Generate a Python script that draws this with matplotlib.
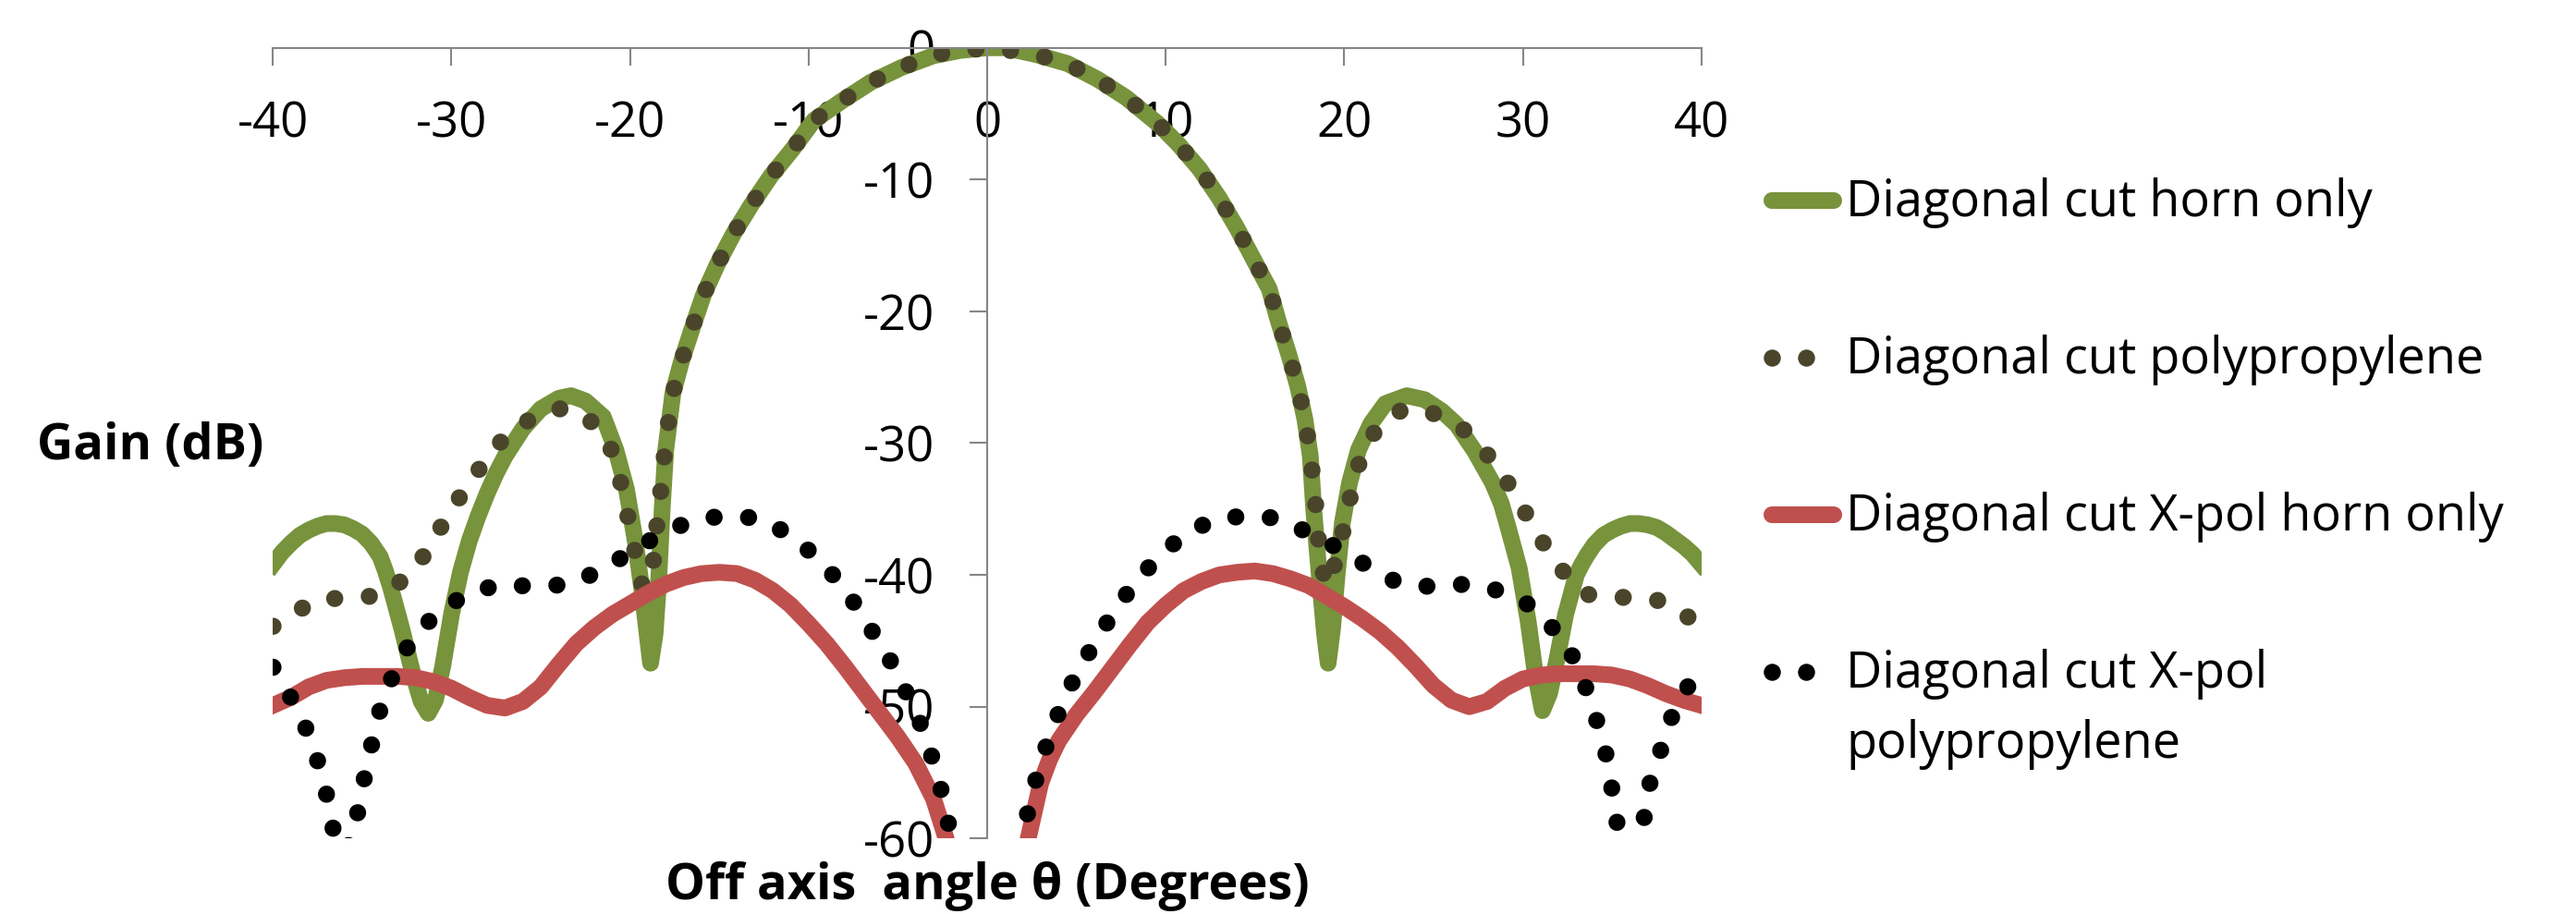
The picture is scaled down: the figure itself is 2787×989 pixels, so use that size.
"""Diagonal cut gain pattern: horn only vs polypropylene, co-pol and X-pol."""

import matplotlib
matplotlib.use("Agg")
import matplotlib.pyplot as plt
from matplotlib.lines import Line2D

plt.rcParams["font.family"] = ["Open Sans", "DejaVu Sans"]
plt.rcParams["axes.unicode_minus"] = False

W, H = 2787, 989

GREEN = "#77933C"
OLIVE = "#4A452A"
RED = "#C0504D"
BLACK = "#000000"
AXIS_GRAY = "#868686"

LABELS = [
    "Diagonal cut horn only",
    "Diagonal cut polypropylene",
    "Diagonal cut X-pol horn only",
    "Diagonal cut X-pol\npolypropylene",
]

# Diagonal cut horn only (co-pol)
HORN_X = [-40, -39.5, -39, -38.5, -38, -37.5, -37, -36.5, -36, -35.5, -35, -34.5,
          -34, -33.7, -33.4, -32.8, -32.2, -31.7, -31.3, -30.9, -30.5, -30.0,
          -29.5, -29.0, -28.5, -28.0, -27.5, -27.0, -26.0, -25.0, -24.0, -23.3,
          -22.5, -21.5, -20.8, -20.2, -19.7, -19.3, -19.0, -18.85, -18.6, -18.4,
          -18.2, -18.0, -17.6, -17.1, -16.5, -15.9, -15.1, -14.2, -13.2, -12.1,
          -10.9, -9.7, -8.1, -6.5, -4.8, -3.0, -1.5, 0.0, 1.0, 2.7, 4.5, 6.2,
          7.8, 9.6, 10.7, 11.9, 13.0, 14.0, 14.9, 15.8, 16.3, 16.9, 17.4, 17.8,
          18.1, 18.3, 18.6, 18.9, 19.1, 19.35, 19.6, 19.9, 20.3, 20.8, 21.5,
          22.3, 23.5, 24.5, 25.5, 26.3, 27.3, 28.3, 28.8, 29.2, 29.8, 30.3, 30.7,
          31.1, 31.5, 31.9, 32.4, 33.0, 33.3, 33.6, 34.0, 34.5, 35.0, 35.5, 36.0,
          36.5, 37.0, 37.5, 38.0, 38.5, 39.0, 39.5, 40]
HORN_Y = [-39.2, -38.3, -37.6, -37.0, -36.6, -36.3, -36.1, -36.1, -36.2, -36.5,
          -36.9, -37.6, -38.6, -39.7, -41.0, -44.0, -47.3, -49.6, -50.5, -49.5,
          -47.0, -43.0, -39.8, -37.4, -35.5, -33.8, -32.3, -31.0, -28.9, -27.4,
          -26.6, -26.4, -26.8, -28.0, -30.5, -33.5, -37.5, -41.5, -45.0, -46.7,
          -44.5, -40.5, -35.0, -30.5, -26.2, -23.7, -21.2, -18.8, -16.4, -14.1,
          -11.9, -9.7, -7.7, -5.5, -4.0, -2.6, -1.5, -0.6, -0.2, 0.0, 0.0, -0.5,
          -1.2, -2.4, -3.8, -5.8, -7.3, -9.2, -11.4, -13.7, -16.0, -18.3, -20.7,
          -23.3, -25.7, -28.2, -31.0, -35.2, -40.0, -44.5, -46.7, -44.0, -40.0,
          -36.0, -33.0, -30.5, -28.5, -27.0, -26.4, -26.7, -27.6, -28.6, -30.6,
          -33.0, -34.6, -36.5, -39.5, -43.5, -47.5, -50.3, -49.0, -46.5, -43.0,
          -40.0, -39.2, -38.5, -37.7, -37.0, -36.6, -36.3, -36.1, -36.1, -36.2,
          -36.4, -36.8, -37.3, -37.8, -38.4, -39.2]

# Diagonal cut polypropylene (co-pol)
PP_X = [-40, -39.5, -37.8, -36.0, -34.1, -32.5, -31.3, -30.4, -29.3, -28.2, -27.0,
        -25.5, -23.7, -22.0, -21.0, -20.5, -20.1, -19.7, -19.4, -19.1, -18.7,
        -18.5, -18.3, -18.1, -17.9, -17.6, -17.1, -16.5, -15.9, -15.1, -14.2,
        -13.2, -12.1, -10.9, -9.7, -8.1, -6.5, -4.8, -3.0, -1.1, 0.8, 2.7, 4.5,
        6.2, 7.8, 9.6, 10.7, 11.9, 13.0, 14.0, 14.9, 15.8, 16.3, 16.9, 17.4,
        17.8, 18.1, 18.3, 18.5, 18.6, 19.0, 19.2, 19.6, 20.0, 20.4, 20.9, 21.8,
        23.3, 25.2, 26.7, 28.1, 29.2, 30.2, 31.2, 32.3, 33.7, 35.6, 37.5, 39.2, 40]
PP_Y = [-43.9, -43.6, -42.0, -41.7, -41.6, -40.2, -38.1, -35.9, -33.6, -31.5,
        -29.5, -28.1, -27.3, -28.5, -30.6, -33.1, -35.7, -38.4, -40.6, -41.0,
        -39.0, -36.3, -33.9, -31.2, -28.9, -26.2, -23.7, -21.2, -18.8, -16.4,
        -14.1, -11.9, -9.7, -7.7, -5.5, -4.0, -2.6, -1.5, -0.55, -0.1, -0.1,
        -0.5, -1.2, -2.4, -3.8, -5.8, -7.3, -9.2, -11.4, -13.7, -16.0, -18.3,
        -20.7, -23.3, -25.7, -28.2, -30.8, -33.4, -35.9, -38.6, -40.8, -40.5,
        -38.5, -36.3, -33.7, -31.2, -28.9, -27.4, -27.8, -29.0, -31.0, -33.1,
        -35.4, -37.7, -39.8, -41.5, -41.7, -41.9, -43.1, -44.5]

# Diagonal cut X-pol horn only
XH_X = [-40, -39, -38, -37, -36, -35, -34, -33, -32, -31, -30, -29, -28, -27, -26,
        -25, -24, -23, -22, -21, -20, -19, -18, -17, -16, -15, -14, -13, -12, -11,
        -10, -9, -8, -7, -6, -5, -4, -3, -2.3, -1.5,
        1.5, 2.3, 3, 3.5, 4, 4.5, 5, 6, 7, 8, 9, 10, 11, 12, 13, 14, 15, 16, 17,
        18, 19, 20, 21, 22, 23, 24, 25, 26, 27, 28, 29, 30, 31, 32, 33, 34, 35,
        36, 37, 38, 39, 40]
XH_Y = [-49.9, -49.3, -48.5, -48.0, -47.8, -47.7, -47.7, -47.7, -47.8, -48.1,
        -48.6, -49.3, -49.9, -50.1, -49.6, -48.5, -46.8, -45.2, -44.0, -43.0,
        -42.2, -41.4, -40.7, -40.2, -39.9, -39.8, -39.9, -40.4, -41.2, -42.3,
        -43.7, -45.2, -46.9, -48.7, -50.5, -52.3, -54.3, -57.0, -60.0, -66.0,
        -66.0, -60.0, -55.8, -54.0, -52.6, -51.6, -50.6, -48.9, -47.1, -45.3,
        -43.6, -42.3, -41.2, -40.5, -40.0, -39.8, -39.7, -39.9, -40.3, -40.8,
        -41.6, -42.4, -43.3, -44.3, -45.5, -46.9, -48.4, -49.5, -50.0, -49.6,
        -48.6, -47.9, -47.6, -47.5, -47.5, -47.5, -47.6, -47.9, -48.4, -49.0,
        -49.5, -49.9]

# Diagonal cut X-pol polypropylene
XPP_X = [-40, -39.5, -38.5, -37.8, -37.2, -36.8, -36.5, -36.0, -35.5, -35.1, -34.7,
         -34.3, -33.8, -33.0, -32.1, -30.7, -29.1, -27.2, -25.3, -23.4, -21.7,
         -20.0, -18.4, -16.6, -14.7, -12.8, -11.1, -9.6, -8.3, -7.2, -6.2, -5.2,
         -4.4, -3.6, -3.0, -2.5, -2.1, -1.5, 0.0, 1.5, 2.0, 2.4, 2.9, 3.5, 4.2,
         5.0, 6.0, 7.0, 8.1, 9.4, 10.8, 12.5, 14.4, 16.3, 18.0, 19.7, 21.4,
         23.0, 24.9, 26.8, 28.7, 30.4, 31.8, 32.9, 33.6, 34.2, 34.7, 35.0, 35.3,
         36.0, 36.8, 37.1, 37.7, 38.3, 39.2, 40]
XPP_Y = [-47.0, -48.1, -50.5, -52.8, -55.4, -57.9, -60.3, -61.0, -60.0, -56.8,
         -54.3, -51.8, -49.2, -46.8, -44.6, -42.8, -41.4, -40.7, -40.9, -40.7,
         -39.7, -38.3, -37.0, -35.9, -35.5, -35.7, -36.9, -38.6, -40.5, -42.6,
         -44.8, -47.0, -49.3, -51.7, -54.2, -56.7, -59.3, -63.0, -70.0, -63.0,
         -59.8, -57.2, -54.7, -52.2, -49.8, -47.5, -45.2, -43.0, -40.9, -38.9,
         -37.2, -35.9, -35.5, -35.7, -36.8, -38.0, -39.4, -40.6, -40.9, -40.7,
         -41.2, -42.3, -44.2, -46.4, -48.8, -51.3, -53.8, -56.3, -59.0, -61.0,
         -58.4, -55.9, -53.4, -50.9, -48.6, -46.5]

X_TICKS = list(range(-40, 41, 10))
Y_TICKS = list(range(-60, 1, 10))

LW = 13.0          # line width (pt) at dpi 100
DOT_LW = 13.3
DOT = (0, (0.01, 2.02))


def fx(px):
    return px / W


def fy(py):
    return 1 - py / H


def main() -> None:
    fig = plt.figure(figsize=(W / 100, H / 100), dpi=100)
    ax = fig.add_axes([fx(295.3), fy(907.3), 1545.4 / W, 855.6 / H])

    ax.plot(HORN_X, HORN_Y, color=GREEN, lw=LW, solid_joinstyle="round")
    ax.plot(PP_X, PP_Y, color=OLIVE, lw=DOT_LW, ls=DOT, dash_capstyle="round")
    ax.plot(XH_X, XH_Y, color=RED, lw=LW, solid_joinstyle="round")
    ax.plot(XPP_X, XPP_Y, color=BLACK, lw=DOT_LW, ls=DOT, dash_capstyle="round")

    ax.set_xlim(-40, 40)
    ax.set_ylim(-60, 0)
    ax.set_xticks(X_TICKS)
    ax.set_yticks(Y_TICKS)

    # Excel-style axes crossing at (0, 0)
    ax.spines["bottom"].set_position(("data", 0))
    ax.spines["left"].set_position(("data", 0))
    ax.spines["top"].set_visible(False)
    ax.spines["right"].set_visible(False)
    for s in ("bottom", "left"):
        ax.spines[s].set_color(AXIS_GRAY)
        ax.spines[s].set_linewidth(1.5)
    ax.tick_params(direction="out", length=13.7, width=1.5, color=AXIS_GRAY,
                   labelsize=38, pad=27)

    fig.text(fx(163), fy(483), "Gain (dB)", ha="center", va="center",
             fontsize=39, fontweight="bold")
    fig.text(fx(1068), fy(959), "Off axis  angle θ (Degrees)", ha="center",
             va="center", fontsize=39, fontweight="bold")

    # legend, laid out like the Excel one
    rows = [217, 387, 557, 727]
    styles = [(GREEN, "solid"), (OLIVE, "dots"), (RED, "solid"), (BLACK, "dots")]
    for label, (color, kind), y in zip(LABELS, styles, rows):
        if kind == "solid":
            fig.add_artist(Line2D([fx(1917), fx(1984)], [fy(y), fy(y)],
                                  transform=fig.transFigure, color=color,
                                  lw=LW, solid_capstyle="round"))
        else:
            fig.add_artist(Line2D([fx(1916.7), fx(1954)], [fy(y), fy(y)],
                                  transform=fig.transFigure, color=color,
                                  ls="none", marker="o", ms=DOT_LW, mew=0))
        for k, line in enumerate(label.split("\n")):
            fig.text(fx(1997), fy(y + 17 + 76 * k), line, ha="left",
                     va="baseline", fontsize=39)

    fig.savefig("out.png", dpi=100)


if __name__ == "__main__":
    main()
